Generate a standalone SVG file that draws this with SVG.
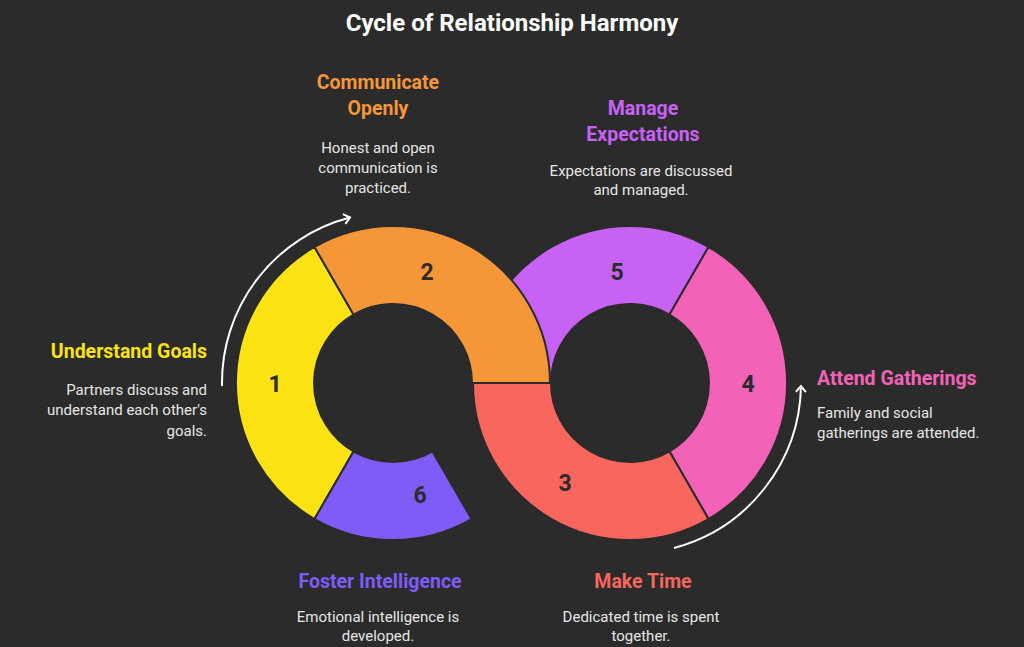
<svg xmlns="http://www.w3.org/2000/svg" width="1024" height="647" viewBox="0 0 1024 647">
<defs>
<style>
.t{font-family:Roboto,"Liberation Sans",sans-serif;font-weight:bold;font-size:19.5px}
.d{font-family:Roboto,"Liberation Sans",sans-serif;font-size:15px;fill:#e6e6e6}
.n{font-family:Roboto,"Liberation Sans",sans-serif;font-weight:bold;font-size:23px;fill:#2b2b2b;text-anchor:middle;dominant-baseline:central}
.s{stroke:#2b2b2b;stroke-width:2;stroke-linejoin:round}
.a{fill:none;stroke:#fff;stroke-width:2}
</style>
<marker id="ah" markerWidth="12" markerHeight="12" refX="8" refY="6" orient="auto" markerUnits="userSpaceOnUse">
<path d="M2,1 L8,6 L2,11" fill="none" stroke="#fff" stroke-width="2"/>
</marker>
</defs>
<rect width="1024" height="647" fill="#2b2b2b"/>
<text x="512" y="31" text-anchor="middle" font-family="Roboto,'Liberation Sans',sans-serif" font-weight="bold" font-size="24" fill="#fff">Cycle of Relationship Harmony</text>
<g id="seg5"><path class="s" fill="#C762F5" d="M473,383 A157,157 0 0 1 708.5,247 L669.5,314.6 A79,79 0 0 0 551,383 Z"/><text class="n" x="617" y="272">5</text></g>
<g id="seg4"><path class="s" fill="#F263B8" d="M708.5,247 A157,157 0 0 1 708.5,519 L669.5,451.4 A79,79 0 0 0 669.5,314.6 Z"/><text class="n" x="748" y="384">4</text></g>
<g id="seg1"><path class="s" fill="#FDE314" d="M314.5,519 A157,157 0 0 1 314.5,247 L353.5,314.6 A79,79 0 0 0 353.5,451.4 Z"/><text class="n" x="275" y="384">1</text></g>
<g id="seg6"><path class="s" fill="#7F5CF8" d="M471.5,519 A157,157 0 0 1 314.5,519 L353.5,451.4 A79,79 0 0 0 432.5,451.4 Z"/><text class="n" x="420" y="495">6</text></g>
<g id="seg2"><path class="s" fill="#F59738" d="M314.5,247 A157,157 0 0 1 550,383 L472,383 A79,79 0 0 0 353.5,314.6 Z"/><text class="n" x="427" y="272">2</text></g>
<g id="seg3"><path class="s" fill="#F9665E" d="M708.5,519 A157,157 0 0 1 473,383 L551,383 A79,79 0 0 0 669.5,451.4 Z"/><text class="n" x="565" y="483">3</text></g>
<g id="connectors">
<path class="a" d="M222,386 A171,171 0 0 1 350,217.5" marker-end="url(#ah)"/>
<path class="a" d="M674,548 A171,171 0 0 0 801,386" marker-end="url(#ah)"/>
</g>
<g id="l2"><text class="t" fill="#F59738" text-anchor="middle"><tspan x="378" y="89">Communicate</tspan><tspan x="378" y="115">Openly</tspan></text>
<text class="d" text-anchor="middle"><tspan x="378" y="153">Honest and open</tspan><tspan x="378" y="173">communication is</tspan><tspan x="378" y="193">practiced.</tspan></text></g>
<g id="l5"><text class="t" fill="#C762F5" text-anchor="middle"><tspan x="643" y="115">Manage</tspan><tspan x="643" y="141">Expectations</tspan></text>
<text class="d" text-anchor="middle"><tspan x="641" y="176">Expectations are discussed</tspan><tspan x="641" y="195">and managed.</tspan></text></g>
<g id="l1"><text class="t" fill="#FDE314" text-anchor="end" x="207" y="358">Understand Goals</text>
<text class="d" text-anchor="end"><tspan x="207" y="395">Partners discuss and</tspan><tspan x="207" y="415">understand each other's</tspan><tspan x="207" y="436">goals.</tspan></text></g>
<g id="l4"><text class="t" fill="#F263B8" x="817" y="385">Attend Gatherings</text>
<text class="d"><tspan x="817" y="418">Family and social</tspan><tspan x="817" y="438">gatherings are attended.</tspan></text></g>
<g id="l6"><text class="t" fill="#7F5CF8" text-anchor="middle" x="380" y="588">Foster Intelligence</text>
<text class="d" text-anchor="middle"><tspan x="378" y="622">Emotional intelligence is</tspan><tspan x="378" y="641">developed.</tspan></text></g>
<g id="l3"><text class="t" fill="#F9665E" text-anchor="middle" x="643" y="588">Make Time</text>
<text class="d" text-anchor="middle"><tspan x="641" y="622">Dedicated time is spent</tspan><tspan x="641" y="641">together.</tspan></text></g>
</svg>
